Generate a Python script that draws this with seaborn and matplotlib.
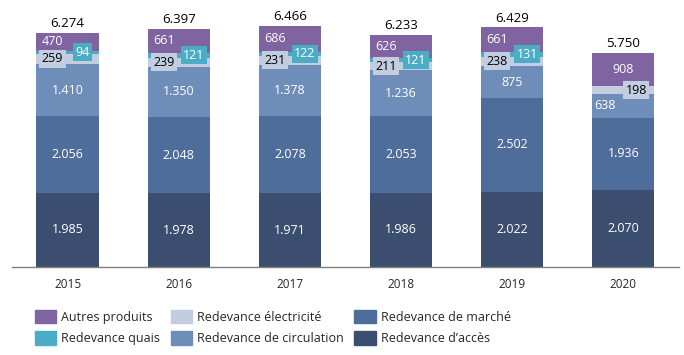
import numpy as np
import pandas as pd
import matplotlib
matplotlib.use('Agg')
import matplotlib.pyplot as plt
import matplotlib.patches as mpatches
import seaborn as sns

# donnees (M€)
annees = ['2015', '2016', '2017', '2018', '2019', '2020']
acces = [1985, 1978, 1971, 1986, 2022, 2070]
marche = [2056, 2048, 2078, 2053, 2502, 1936]
circulation = [1410, 1350, 1378, 1236, 875, 638]
electricite = [259, 239, 231, 211, 238, 198]
quais = [94, 121, 122, 121, 131, 0]
autres = [470, 661, 686, 626, 661, 908]

series = [
    ("Redevance d’accès", acces, '#3b4e6f'),
    ("Redevance de marché", marche, '#4e6d9b'),
    ("Redevance de circulation", circulation, '#6f8db9'),
    ("Redevance électricité", electricite, '#c3cde0'),
    ("Redevance quais", quais, '#4bacc6'),
    ("Autres produits", autres, '#8064a2'),
]

sns.set_style('white')
plt.rcParams['font.family'] = ['Open Sans', 'DejaVu Sans']

fig = plt.figure(figsize=(6.84, 3.55), dpi=100)
ax = fig.add_axes([0.0175, 0.248, 0.975, 0.735])

df = pd.DataFrame({nom: vals for nom, vals, _ in series}, index=annees)
cumul = df.cumsum(axis=1)

# barres empilees: on trace du haut vers le bas
for nom, _, couleur in reversed(series):
    sns.barplot(x=annees, y=cumul[nom].values, color=couleur, width=0.56,
                saturation=1, ax=ax, linewidth=0)

ax.set_ylim(0, 7000)
ax.set_yticks([])
ax.set_ylabel('')
for s in ['top', 'left', 'right']:
    ax.spines[s].set_visible(False)
ax.spines['bottom'].set_color('#7f7f7f')
ax.spines['bottom'].set_linewidth(1)
ax.tick_params(axis='x', length=0, pad=8, labelsize=8.5)


def fmt(v):
    return f'{v:,}'.replace(',', '.')


for i, an in enumerate(annees):
    a_quais = quais[i] > 0
    bas = 0
    for nom, vals, couleur in series:
        v = vals[i]
        mid = bas + v / 2
        bas += v
        if v == 0:
            continue
        dx = 0
        kw = dict(color='white')
        if nom == "Redevance de circulation" and not a_quais:
            dx = -18
        if nom == "Autres produits" and a_quais:
            dx = -15
        if nom == "Redevance électricité":
            dx = -15 if a_quais else 13
            kw = dict(color='black', bbox=dict(boxstyle='square,pad=0.2',
                                               fc=couleur, ec='none'))
        if nom == "Redevance quais":
            dx = 15
            kw = dict(color='white', bbox=dict(boxstyle='square,pad=0.2',
                                               fc=couleur, ec='none'))
        ax.annotate(fmt(v), (i, mid), xytext=(dx * 0.72, 0),
                    textcoords='offset points', ha='center', va='center',
                    fontsize=9, **kw)
    ax.annotate(fmt(int(cumul.iloc[i, -1])), (i, cumul.iloc[i, -1]),
                xytext=(0, 2), textcoords='offset points', ha='center',
                va='bottom', fontsize=9.5, color='black')

# legende: 2 lignes x 3 colonnes
couleurs = {nom: c for nom, _, c in series}
ordre = ["Autres produits", "Redevance quais", "Redevance électricité",
         "Redevance de circulation", "Redevance de marché", "Redevance d’accès"]
poignees = [mpatches.Patch(color=couleurs[n], label=n) for n in ordre]
fig.legend(handles=poignees, loc='upper left', bbox_to_anchor=(0.051, 0.128),
           ncol=3, frameon=False, fontsize=9, handlelength=1.7,
           handleheight=1.3, handletextpad=0.4, columnspacing=0.85,
           labelspacing=0.6, borderaxespad=0, borderpad=0)

fig.savefig('out.png', dpi=100)
